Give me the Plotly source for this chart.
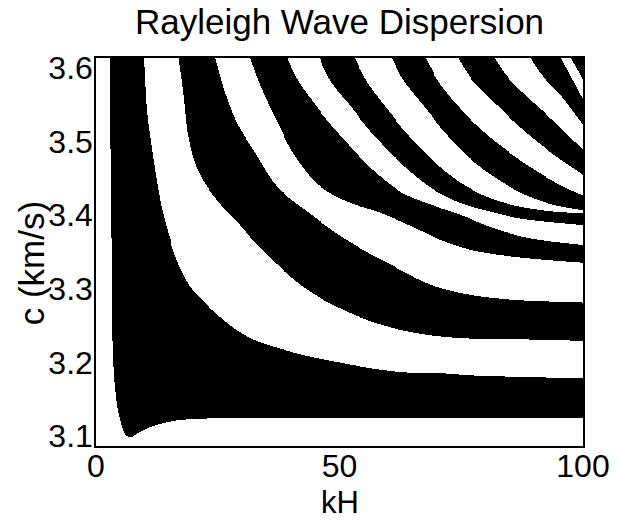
import numpy as np
import plotly.graph_objects as go

# Sign-change boundaries of the dispersion function.
# Each boundary: kH values and phase velocity c (km/s). Ordered from lower-left to upper-right.
b0_kh = [2.8, 3.0, 3.2, 3.4, 4.0, 4.8, 6.2, 7.2, 8.5, 10.9, 14.3, 18.3, 27.0, 100]
b0_c = [3.62, 3.49, 3.37, 3.23, 3.16, 3.126, 3.101, 3.099, 3.104, 3.112, 3.119, 3.123, 3.125, 3.125]
b1_kh = [9.86, 10.46, 11.27, 12.27, 13.48, 15.29, 16.90, 19.52, 22.33, 25.55, 28.97, 33.00, 37.02, 43.66, 50.50, 57.14, 63.78, 70.62, 77.26, 100]
b1_c = [3.62, 3.547, 3.502, 3.457, 3.411, 3.366, 3.335, 3.302, 3.282, 3.262, 3.244, 3.230, 3.221, 3.209, 3.200, 3.192, 3.187, 3.186, 3.183, 3.179]
b2_kh = [16.9, 17.9, 18.9, 20.9, 24.9, 29.0, 32.4, 37.0, 43.7, 50.5, 57.1, 63.8, 70.6, 77.3, 87.3, 100]
b2_c = [3.62, 3.570, 3.510, 3.462, 3.421, 3.391, 3.366, 3.335, 3.298, 3.273, 3.255, 3.243, 3.236, 3.233, 3.232, 3.230]
b3_kh = [24.3, 26.4, 29.0, 32.4, 37.0, 43.7, 51.7, 61.2, 69.2, 77.3, 87.3, 100]
b3_c = [3.62, 3.570, 3.525, 3.489, 3.441, 3.404, 3.366, 3.331, 3.305, 3.292, 3.285, 3.282]
b4_kh = [31.4, 33.6, 37.0, 41.0, 46.0, 52.0, 58.0, 64.0, 71.2, 77.3, 87.3, 100]
b4_c = [3.62, 3.580, 3.530, 3.480, 3.440, 3.418, 3.405, 3.388, 3.366, 3.353, 3.343, 3.336]
b5_kh = [39.0, 41.0, 45.1, 51.1, 57.1, 63.2, 69.2, 75.3, 81.3, 89.3, 100]
b5_c = [3.62, 3.590, 3.550, 3.502, 3.461, 3.430, 3.414, 3.400, 3.384, 3.369, 3.360]
b6_kh = [45.5, 48.1, 52.1, 57.1, 63.2, 69.2, 75.3, 81.3, 87.3, 100]
b6_c = [3.62, 3.584, 3.550, 3.509, 3.468, 3.436, 3.416, 3.405, 3.396, 3.387]
b7_kh = [52.7, 55.5, 59.2, 64.2, 69.2, 75.3, 81.3, 87.3, 93.4, 100]
b7_c = [3.62, 3.584, 3.550, 3.509, 3.475, 3.443, 3.423, 3.412, 3.406, 3.403]
b8_kh = [60.2, 63.2, 67.2, 72.2, 77.3, 83.3, 89.3, 94.4, 100]
b8_c = [3.62, 3.584, 3.550, 3.509, 3.475, 3.446, 3.425, 3.414, 3.407]
b9_kh = [67.2, 70.2, 74.2, 79.3, 85.3, 91.3, 96.4, 100]
b9_c = [3.62, 3.584, 3.550, 3.516, 3.484, 3.457, 3.438, 3.427]
b10_kh = [73.8, 77.3, 81.3, 86.3, 92.4, 100]
b10_c = [3.62, 3.584, 3.557, 3.525, 3.491, 3.455]
b11_kh = [81.3, 84.3, 88.3, 93.4, 100]
b11_c = [3.62, 3.590, 3.563, 3.532, 3.489]
b12_kh = [88.7, 91.3, 95.0, 100]
b12_c = [3.62, 3.593, 3.567, 3.523]
b13_kh = [95.0, 97.4, 100]
b13_c = [3.62, 3.590, 3.557]
b14_kh = [97.0, 100]
b14_c = [3.62, 3.584]

x_ticks = [0, 50, 100]
x_tick_text = ["0", "50", "100"]
y_ticks = [3.1, 3.2, 3.3, 3.4, 3.5, 3.6]
y_tick_text = ["3.1", "3.2", "3.3", "3.4", "3.5", "3.6"]

boundaries = [
    (b0_kh, b0_c), (b1_kh, b1_c), (b2_kh, b2_c), (b3_kh, b3_c), (b4_kh, b4_c),
    (b5_kh, b5_c), (b6_kh, b6_c), (b7_kh, b7_c), (b8_kh, b8_c), (b9_kh, b9_c),
    (b10_kh, b10_c), (b11_kh, b11_c), (b12_kh, b12_c), (b13_kh, b13_c), (b14_kh, b14_c),
]


def smooth_curve(xk, yk, x):
    """Shape-preserving (PCHIP) curve through the read points; +inf left of the curve start."""
    xk = np.asarray(xk, float)
    yk = np.asarray(yk, float)
    out = np.full(x.shape, np.inf)
    if xk.size < 3:
        inside = x >= xk[0]
        out[inside] = np.interp(x[inside], xk, yk)
        return out
    h = np.diff(xk)
    d = np.diff(yk) / h
    m = np.zeros_like(yk)
    for k in range(1, xk.size - 1):
        if d[k - 1] * d[k] > 0:
            w1 = 2 * h[k] + h[k - 1]
            w2 = h[k] + 2 * h[k - 1]
            m[k] = (w1 + w2) / (w1 / d[k - 1] + w2 / d[k])
    m[0] = d[0]
    m[-1] = d[-1]
    inside = (x >= xk[0]) & (x <= xk[-1])
    xi = x[inside]
    idx = np.clip(np.searchsorted(xk, xi) - 1, 0, xk.size - 2)
    t = (xi - xk[idx]) / h[idx]
    h00 = 2 * t**3 - 3 * t**2 + 1
    h10 = t**3 - 2 * t**2 + t
    h01 = -2 * t**3 + 3 * t**2
    h11 = t**3 - t**2
    out[inside] = (h00 * yk[idx] + h10 * h[idx] * m[idx]
                   + h01 * yk[idx + 1] + h11 * h[idx] * m[idx + 1])
    out[x > xk[-1]] = yk[-1]
    return out


y_lo, y_hi = 3.0864, 3.6136
kh_grid = np.linspace(0, 100, 501)
c_grid = np.linspace(y_lo, y_hi, 389)

count = np.zeros((c_grid.size, kh_grid.size), dtype=int)
for kh, c in boundaries:
    cb = smooth_curve(kh, c, kh_grid)
    count += (c_grid[:, None] > cb[None, :]).astype(int)
z = count % 2

fig = go.Figure(go.Heatmap(
    x=kh_grid, y=c_grid, z=z,
    colorscale=[[0, "white"], [1, "black"]],
    zmin=0, zmax=1, showscale=False, zsmooth=False, hoverinfo="skip",
))

font_family = "Liberation Sans, Arial, Helvetica, sans-serif"
fig.update_layout(
    width=622, height=520,
    margin=dict(l=96, r=29, t=58, b=74),
    paper_bgcolor="white", plot_bgcolor="white",
    font=dict(family=font_family, color="black"),
    title=dict(text="Rayleigh Wave Dispersion", x=0.5, xref="paper",
               y=1 - 22 / 520, yref="container", yanchor="middle",
               font=dict(size=35, family=font_family, color="black")),
    xaxis=dict(range=[0, 100], tickvals=x_ticks, ticktext=x_tick_text,
               showgrid=False, zeroline=False, showline=True, mirror=True,
               linecolor="black", linewidth=1.5, ticks="", ticklabelstandoff=-9,
               tickfont=dict(size=32, family=font_family, color="black")),
    yaxis=dict(range=[y_lo, y_hi], tickvals=y_ticks, ticktext=y_tick_text,
               showgrid=False, zeroline=False, showline=True, mirror=True,
               linecolor="black", linewidth=1.5, ticks="", ticklabelstandoff=-5,
               tickfont=dict(size=32, family=font_family, color="black")),
    annotations=[
        dict(text="kH", x=0.5, y=(446 - 502) / 388, xref="paper", yref="paper",
             showarrow=False, xanchor="center", yanchor="middle",
             font=dict(size=31, family=font_family, color="black")),
        dict(text="c (km/s)", x=(30 - 96) / 497, y=(446 - 263) / 388, xref="paper", yref="paper",
             showarrow=False, xanchor="center", yanchor="middle", textangle=-90,
             font=dict(size=35, family=font_family, color="black")),
    ],
)

fig.write_html("out.html")
